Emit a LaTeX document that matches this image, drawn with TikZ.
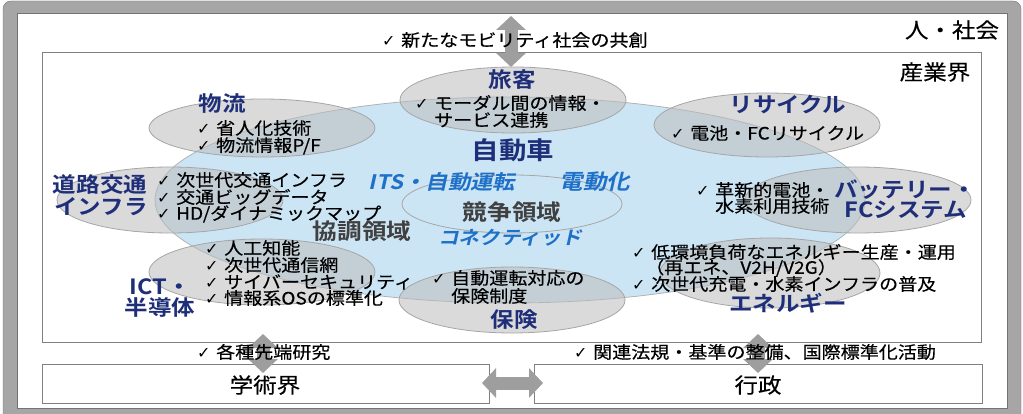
\documentclass[tikz,border=0pt]{standalone}
\usepackage{fontspec}
\usetikzlibrary{arrows.meta}
\newfontfamily\jp{Noto Sans CJK JP}[FakeStretch=1.12, BoldFont={Noto Sans CJK JP Bold}]
\newfontfamily\jpb{Noto Sans CJK JP}[FakeStretch=1.12, FakeBold=0.35]
\newfontfamily\jpsl{Noto Sans CJK JP Bold}[FakeStretch=1.12, FakeSlant=0.22]
\newfontfamily\djv{DejaVu Sans}
\newcommand\ck{\makebox[19pt][l]{\djv\fontsize{16}{16}\selectfont ✓}}
\definecolor{navy}{RGB}{30,46,120}
\definecolor{itblue}{RGB}{30,112,200}
\definecolor{carblue}{RGB}{204,229,245}
\definecolor{ellgray}{RGB}{188,188,188}
\definecolor{lbl}{RGB}{64,64,64}
\definecolor{arrgray}{RGB}{158,158,158}
\tikzset{
  body/.style={font=\jpb\fontsize{17}{17}\selectfont, inner sep=0pt, anchor=west},
  ttl/.style={font=\jp\bfseries\fontsize{21}{21}\selectfont, text=navy, inner sep=0pt},
  big/.style={font=\jpb\fontsize{21}{21}\selectfont, inner sep=0pt},
  area/.style={font=\jp\bfseries\fontsize{22}{22}\selectfont, text=lbl, inner sep=0pt},
  itl/.style={font=\jpsl\fontsize{20}{20}\selectfont, text=itblue, inner sep=0pt},
  sector/.style={fill=ellgray, fill opacity=0.55, draw=black!35, line width=0.8pt},
  boxline/.style={draw=black!50, line width=0.8pt},
  bigarrow/.style={draw=arrgray, line width=13pt, {Triangle[width=29pt,length=14pt]}-{Triangle[width=29pt,length=14pt]}}
}
\begin{document}
\begin{tikzpicture}[x=1pt,y=-1pt]
\useasboundingbox (0,0) rectangle (1023,414);
% frame
\draw[draw=black!55, fill=black!35, rounded corners=8pt] (3,1) rectangle (1021,422);
\draw[fill=white, draw=black!55, line width=0.6pt] (17,13) rectangle (1007,408);
% boxes
\draw[boxline] (42,52) rectangle (981,342);
\draw[boxline] (42,364) rectangle (489,403);
\draw[boxline] (534,364) rectangle (982,403);
% arrows
\coordinate (tA) at (511,16); \coordinate (tB) at (511,67);
\coordinate (lA) at (263,334); \coordinate (lB) at (263,373);
\coordinate (rA) at (758,334); \coordinate (rB) at (758,373);
\coordinate (hA) at (482,383); \coordinate (hB) at (543,383);
\draw[bigarrow] (tA) -- (tB);
\draw[bigarrow] (lA) -- (lB);
\draw[bigarrow] (rA) -- (rB);
\draw[bigarrow] (hA) -- (hB);
% car ellipse
\draw[fill=carblue, draw=black!30, line width=0.8pt] (510,200) ellipse [x radius=355, y radius=103];
\draw[draw=black!35, line width=0.8pt] (512,204) ellipse [x radius=110, y radius=29];
% sector ellipses
\path[sector] (262,128) ellipse [x radius=113, y radius=29];
\path[sector] (513,100) ellipse [x radius=113, y radius=33];
\path[sector] (767,125) ellipse [x radius=113, y radius=32];
\path[sector] (170,200) ellipse [x radius=113, y radius=33];
\path[sector] (858,200) ellipse [x radius=113, y radius=33];
\path[sector] (262,272) ellipse [x radius=113, y radius=33];
\path[sector] (512,300) ellipse [x radius=113, y radius=33];
\path[sector] (770,273) ellipse [x radius=110, y radius=35];
% big labels
\node[big] (hito) at (952,30) {人・社会};
\node[big] (sangyo) at (935,72) {産業界};
\node[big] (gaku) at (265,385) {学術界};
\node[big] (gyosei) at (758,385) {行政};
% top / bottom notes
\node[body] (n1) at (382,40) {\ck 新たなモビリティ社会の共創};
\node[body] (n2) at (197,352) {\ck 各種先端研究};
\node[body] (n3) at (574,352) {\ck 関連法規・基準の整備、国際標準化活動};
% car
\node[font=\jp\bfseries\fontsize{24.5}{24.5}\selectfont, text=navy, inner sep=0pt] (car) at (513,150) {自動車};
\node[itl] (its) at (442,182) {ITS・自動運転};
\node[itl, font=\jpsl\fontsize{21}{21}\selectfont] (ev) at (595,182) {電動化};
\node[itl, font=\jpsl\fontsize{18.5}{18.5}\selectfont] (con) at (510,238) {コネクティッド};
\node[area] (kyoso) at (512,212) {競争領域};
\node[area] (kyocho) at (362,231) {協調領域};
% 物流
\node[ttl] (butsuryu) at (222,104) {物流};
\node[body] (b1) at (197,128) {\ck 省人化技術};
\node[body] (b2) at (197,146) {\ck 物流情報P/F};
% 旅客
\node[ttl] (ryokaku) at (512,80) {旅客};
\node[body] (r1) at (415,103) {\ck モーダル間の情報・};
\node[body] (r2) at (434,120) {サービス連携};
% リサイクル
\node[ttl] (recycle) at (788,105) {リサイクル};
\node[body] (c1) at (671,133) {\ck 電池・FCリサイクル};
% 道路交通インフラ
\node[ttl] (road1) at (100,185) {道路交通};
\node[ttl] (road2) at (101,207) {インフラ};
\node[body] (d1) at (157,180) {\ck 次世代交通インフラ};
\node[body] (d2) at (157,197) {\ck 交通ビッグデータ};
\node[body] (d3) at (157,214) {\ck HD/ダイナミックマップ};
% バッテリー
\node[ttl] (bat1) at (905,190) {バッテリー・};
\node[ttl] (bat2) at (906,210) {FCシステム};
\node[body] (e1) at (696,190) {\ck 革新的電池・};
\node[body] (e2) at (715,206) {水素利用技術};
% ICT
\node[ttl] (ict1) at (160,287) {ICT・};
\node[ttl] (ict2) at (160,307) {半導体};
\node[body] (i1) at (205,248) {\ck 人工知能};
\node[body] (i2) at (205,265) {\ck 次世代通信網};
\node[body] (i3) at (205,282) {\ck サイバーセキュリティ};
\node[body] (i4) at (205,298) {\ck 情報系OSの標準化};
% 保険
\node[ttl] (hoken) at (514,320) {保険};
\node[body] (h1) at (432,278) {\ck 自動運転対応の};
\node[body] (h2) at (451,296) {保険制度};
% エネルギー
\node[ttl] (energy) at (788,303) {エネルギー};
\node[body] (g1) at (632,252) {\ck 低環境負荷なエネルギー生産・運用};
\node[body] (g2) at (645,268) {（再エネ、V2H/V2G）};
\node[body] (g3) at (632,284) {\ck 次世代充電・水素インフラの普及};
\end{tikzpicture}
\end{document}
